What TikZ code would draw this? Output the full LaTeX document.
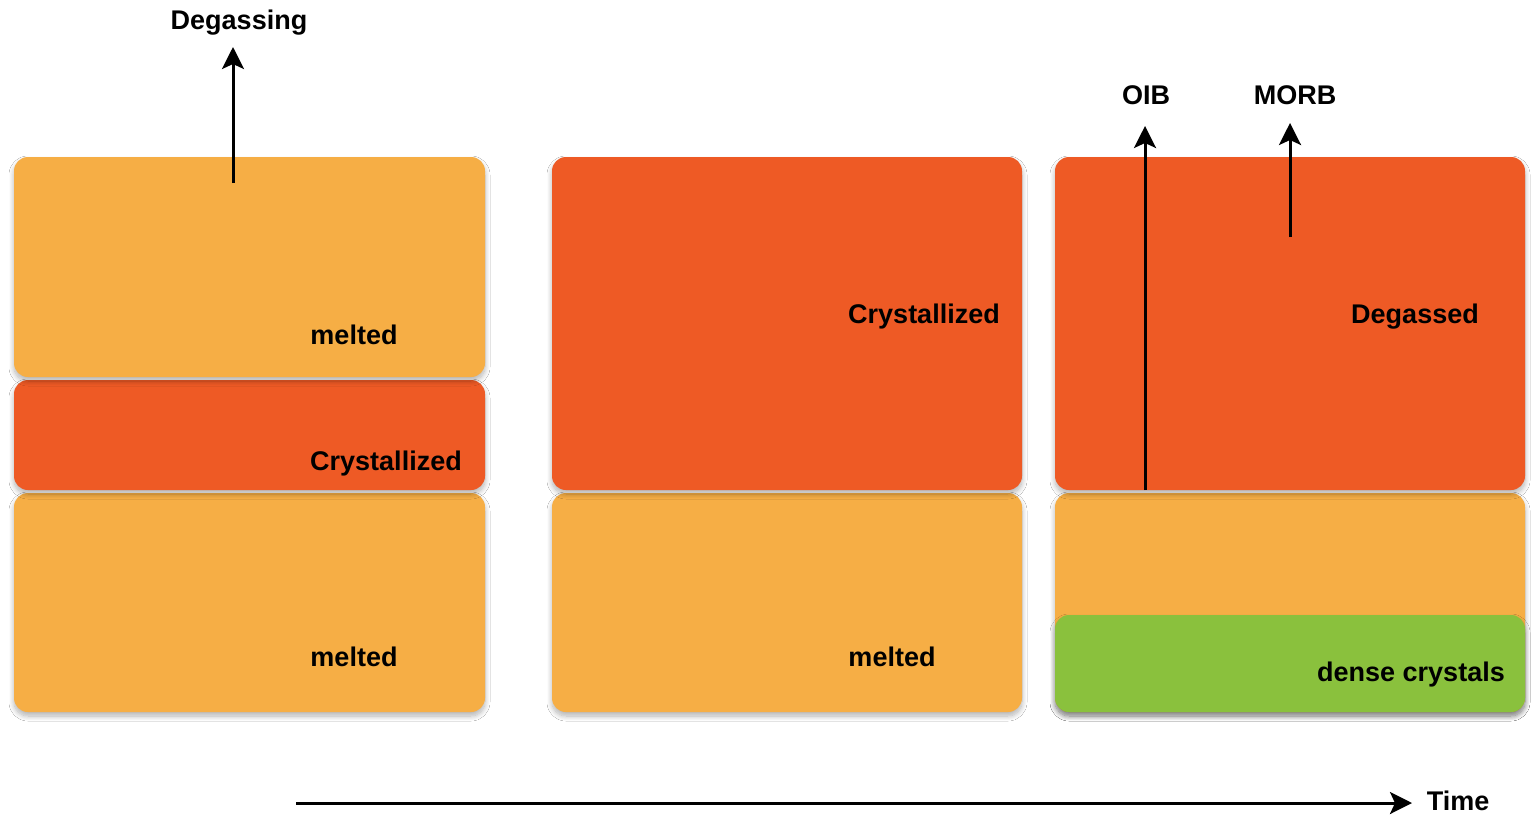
\documentclass[tikz,border=0pt]{standalone}
\usepackage{fontspec}
\setmainfont{Liberation Sans}
\usetikzlibrary{arrows.meta,shadows.blur}
\definecolor{melt}{HTML}{F6AE45}
\definecolor{cryst}{HTML}{EE5A25}
\definecolor{dense}{HTML}{8AC13D}
\begin{document}
\begin{tikzpicture}[x=1pt,y=-1pt,
  layer/.style={draw=none, rounded corners=14pt, inner sep=0pt, outer sep=0pt,
    blur shadow={shadow xshift=0pt, shadow yshift=-4pt, shadow blur radius=5pt, shadow opacity=30, shadow blur steps=10}},
  lbl/.style={font=\bfseries\fontsize{27}{31}\selectfont, inner sep=0pt, text=black},
  arr/.style={line width=3pt, -{Stealth[length=22pt,width=22pt,inset=5pt]}}]
\useasboundingbox (0,0) rectangle (1533,816);
\fill[white] (0,0) rectangle (1533,816);
% column 1
\node[layer, fill=melt, minimum width=471pt, minimum height=219pt] (c1b) at (249.5,602.5) {};
\node[layer, fill=cryst, minimum width=471pt, minimum height=110pt] (c1m) at (249.5,435) {};
\node[layer, fill=melt, minimum width=471pt, minimum height=220pt] (c1t) at (249.5,267) {};
% column 2
\node[layer, fill=melt, minimum width=470pt, minimum height=219pt] (c2b) at (787,602.5) {};
\node[layer, fill=cryst, minimum width=470pt, minimum height=333pt] (c2t) at (787,323.5) {};
% column 3
\node[layer, fill=melt, minimum width=470pt, minimum height=219pt] (c3b) at (1290,602.5) {};
\node[layer, fill=dense, minimum width=470pt, minimum height=97pt] (c3g) at (1290,663.5) {};
\node[layer, fill=cryst, minimum width=470pt, minimum height=333pt] (c3t) at (1290,323.5) {};
% labels in boxes
\node[lbl] (l1) at (354,335) {melted};
\node[lbl] (l2) at (386,464) {Crystallized};
\node[lbl] (l3) at (354,657) {melted};
\node[lbl] (l4) at (924,317) {Crystallized};
\node[lbl] (l5) at (892,657) {melted};
\node[lbl] (l6) at (1415,317) {Degassed};
\node[lbl] (l7) at (1411,675) {dense crystals};
% top labels
\node[lbl] (deg) at (239,23) {Degassing};
\node[lbl] (oib) at (1146,95) {OIB};
\node[lbl] (morb) at (1295,95) {MORB};
\node[lbl] (time) at (1458,801) {Time};
% arrows
\coordinate (dA) at (233,183);
\coordinate (dB) at (233,47);
\draw[arr] (dA) -- (dB);
\coordinate (oA) at (1145,490);
\coordinate (oB) at (1145,126);
\draw[arr] (oA) -- (oB);
\coordinate (mA) at (1290,237);
\coordinate (mB) at (1290,123);
\draw[arr] (mA) -- (mB);
\coordinate (tA) at (296,803);
\coordinate (tB) at (1412,803);
\draw[arr] (tA) -- (tB);
\end{tikzpicture}
\end{document}
